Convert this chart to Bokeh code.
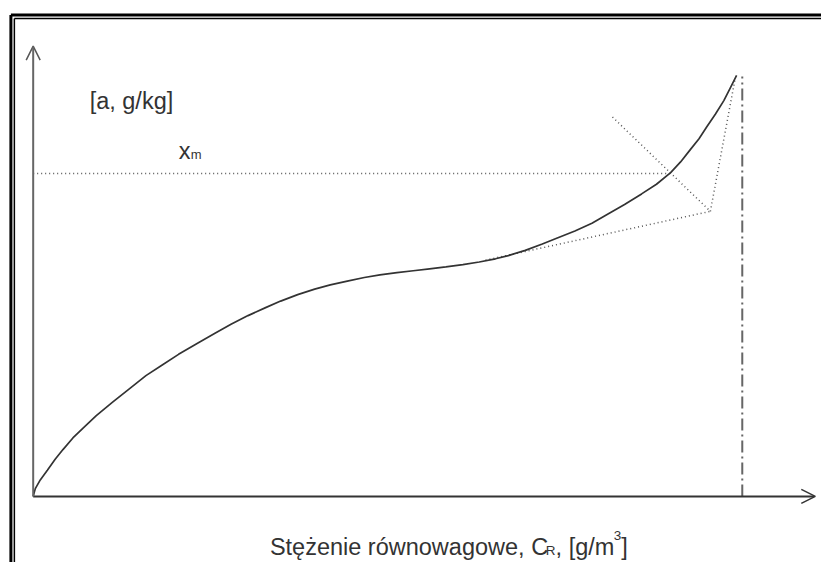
from bokeh.plotting import figure
from bokeh.models import Arrow, OpenHead, Range1d
from bokeh.core.properties import value
from bokeh.embed import file_html
from bokeh.resources import INLINE

# ---------------- data (C_R in % of C_s, a in % of x_m) ----------------
C_curve = [0, 0.3, 1.0, 2.0, 3.1, 4.2, 5.6, 7.0, 8.9, 11.2, 13.6, 15.9, 18.2,
           20.5, 23.3, 25.7, 27.9, 30.3, 32.7, 34.9, 37.3, 39.7, 41.9, 44.3,
           46.7, 48.9, 51.3, 53.6, 55.9, 58.2, 60.6, 62.9, 65.2, 67.0, 69.4,
           71.8, 74.0, 76.4, 78.8, 81.0, 83.4, 85.8, 87.9, 89.9, 91.3, 92.7,
           93.9, 95.0, 96.2, 97.4, 98.3, 99.2]
a_curve = [0, 2.4, 5.1, 8.1, 11.5, 14.5, 18.1, 21.1, 25.0, 29.2, 33.4, 37.4, 40.7,
           44.0, 47.6, 50.6, 53.3, 56.0, 58.4, 60.5, 62.5, 64.2, 65.5, 66.7,
           67.8, 68.6, 69.3, 69.9, 70.5, 71.1, 71.8, 72.6, 73.6, 74.6, 76.2,
           78.2, 80.1, 82.2, 84.6, 87.4, 90.4, 93.7, 96.7, 100.3, 103.6, 107.5,
           110.8, 114.5, 118.4, 122.6, 126.5, 130.4]

XM = 100.0            # monolayer capacity x_m
CS = 100.0            # saturation concentration (asymptote)
CS_TOP = 130.1
XM_END = 89.9         # x_m line ends where it meets the curve

tangent_C = [63.8, 95.5]
tangent_a = [73.2, 88.3]
normal_C = [81.7, 95.5]
normal_a = [117.5, 88.3]
top_C = [95.5, 99.0]
top_a = [88.3, 129.5]

X_AXIS_END = 110.3
Y_AXIS_END = 139.5

y_label = "[a, g/kg]"
xm_label = ["x", "m"]
x_label = ["Stężenie równowagowe, C", "R", ", [g/m", "3", "]"]

# ---------------- layout helpers (reference px -> data) ----------------
W, H = 821, 562
REF_W, REF_H = 829, 578
PX0, PXS = 33.0, 7.16
PY0, PYS = 510.0, 3.32


def fx(px):
    return (px - PX0) / PXS


def fy(py):
    return (PY0 - py) / PYS


p = figure(width=W, height=H, output_backend="svg", toolbar_location=None,
           x_range=Range1d(fx(0), fx(REF_W)), y_range=Range1d(fy(REF_H), fy(0)),
           x_axis_location=None, y_axis_location=None, min_border=0,
           background_fill_color="white", border_fill_color="white")
p.outline_line_color = None
p.grid.visible = False

# frame (double border, cut at right/bottom)
for off, lw in [(10.5, 3), (14.0, 1.5)]:
    p.line([fx(off), fx(off)], [fy(off + 4.5), fy(800)], line_color="black", line_width=lw)
    p.line([fx(off), fx(1000)], [fy(off + 4.5), fy(off + 4.5)], line_color="black", line_width=lw)

# x_m dotted line
p.line([0, XM_END], [XM, XM], line_color="#555555", line_width=1.5, line_dash="1 3")
# construction lines
p.line(tangent_C, tangent_a, line_color="#555555", line_width=1.5, line_dash="1 3")
p.line(normal_C, normal_a, line_color="#555555", line_width=1.5, line_dash="1 3")
p.line(top_C, top_a, line_color="#555555", line_width=1.5, line_dash="1 3")
# saturation asymptote
p.line([CS, CS], [0, CS_TOP], line_color="#666666", line_width=2, line_dash="12 4 2 4")

# isotherm
p.line(C_curve, a_curve, line_color="#333333", line_width=1.7)

# axes with arrows
p.add_layout(Arrow(end=OpenHead(size=14, line_color="#333333", line_width=1.5),
                   x_start=0, y_start=0, x_end=X_AXIS_END, y_end=0,
                   line_color="#333333", line_width=2))
p.add_layout(Arrow(end=OpenHead(size=14, line_color="#555555", line_width=1.5),
                   x_start=0, y_start=0, x_end=0, y_end=Y_AXIS_END,
                   line_color="#666666", line_width=2))

FONT = value("Liberation Sans")
TC = "#333333"
BIG = "23.5px"
SMALL = "13.5px"

p.text(x=[fx(90)], y=[fy(103)], text=[y_label], text_font=FONT, text_font_size=BIG,
       text_baseline="alphabetic", text_align="left", text_color=TC)

p.text(x=[fx(180)], y=[fy(155)], text=[xm_label[0]], text_font=FONT, text_font_size=BIG,
       text_baseline="alphabetic", text_align="left", text_color=TC)
p.text(x=[fx(192)], y=[fy(158)], text=[xm_label[1]], text_font=FONT, text_font_size="13px",
       text_baseline="alphabetic", text_align="left", text_color=TC)

# bottom label pieces
xs = [272, 550.5, 560.5, 619.3, 626.8]
ys = [562, 566, 562, 550, 562]
sizes = [BIG, SMALL, BIG, SMALL, BIG]
for t, px, py, s in zip(x_label, xs, ys, sizes):
    p.text(x=[fx(px)], y=[fy(py)], text=[t], text_font=FONT, text_font_size=s,
           text_baseline="alphabetic", text_align="left", text_color=TC)

open("out.html", "w").write(file_html(p, INLINE))
